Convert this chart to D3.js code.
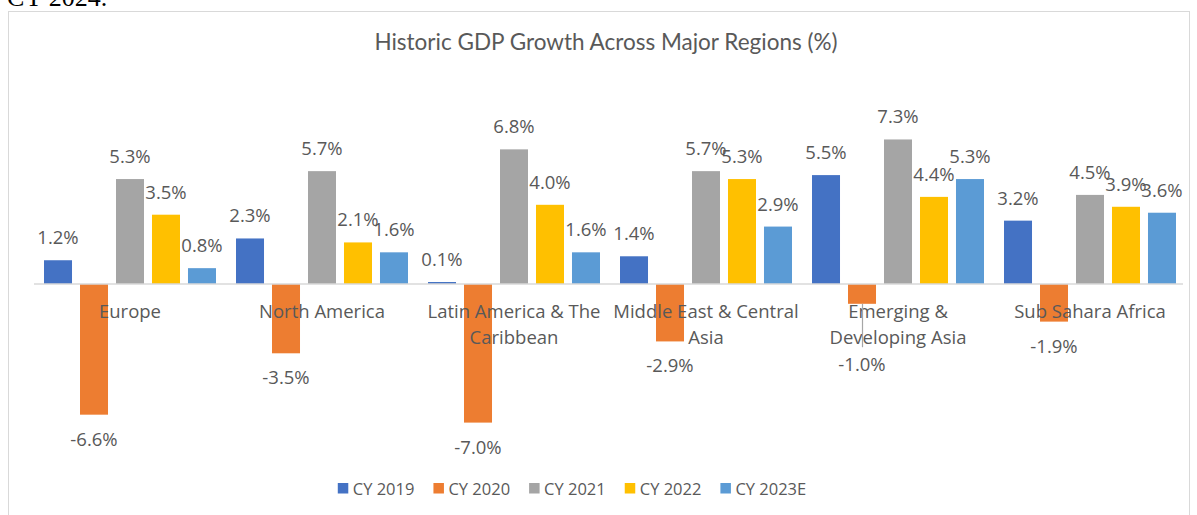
<!DOCTYPE html>
<html>
<head>
<meta charset="utf-8">
<script src="https://cdn.jsdelivr.net/npm/d3@7"></script>
<style>
  body { margin: 0; background: #fff; }
  text { font-family: "Open Sans", Lato, sans-serif; fill: #595959; }
</style>
</head>
<body>
<div class="chartArea"></div>
<script>
// chart data
const categories = ['Europe', 'North America', 'Latin America & The Caribbean',
  'Middle East & Central Asia', 'Emerging & Developing Asia', 'Sub Sahara Africa']
const tickLabels = [['Europe'], ['North America'], ['Latin America & The', 'Caribbean'],
  ['Middle East & Central', 'Asia'], ['Emerging &', 'Developing Asia'], ['Sub Sahara Africa']]
const seriesNames = ['CY 2019', 'CY 2020', 'CY 2021', 'CY 2022', 'CY 2023E']
const cy2019 = [1.2, 2.3, 0.1, 1.4, 5.5, 3.2]
const cy2020 = [-6.6, -3.5, -7.0, -2.9, -1.0, -1.9]
const cy2021 = [5.3, 5.7, 6.8, 5.7, 7.3, 4.5]
const cy2022 = [3.5, 2.1, 4.0, 5.3, 4.4, 3.9]
const cy2023 = [0.8, 1.6, 1.6, 2.9, 5.3, 3.6]
const seriesValues = [cy2019, cy2020, cy2021, cy2022, cy2023]
const colors = ['#4472C4', '#ED7D31', '#A5A5A5', '#FFC000', '#5B9BD5']

let width = 1197,
    height = 515

const svg = d3.select('.chartArea')
    .append('svg')
    .attr('width', width)
    .attr('height', height)

// text cut off above the chart (part of the page the chart came from)
svg.append('text')
    .attr('x', 7).attr('y', 6)
    .style('font-family', '"Liberation Serif", serif')
    .style('font-size', '26px')
    .style('fill', '#000')
    .text('CY 2024.')

// chart frame
svg.append('rect')
    .attr('x', 8.5).attr('y', 11.5)
    .attr('width', 1181).attr('height', 520)
    .attr('fill', 'none')
    .attr('stroke', '#d9d9d9')

svg.append('text')
    .attr('x', 606).attr('y', 50)
    .attr('text-anchor', 'middle')
    .style('font-family', 'Lato, sans-serif')
    .style('font-size', '22.5px')
    .text('Historic GDP Growth Across Major Regions (%)')

// scales
const x0 = d3.scaleBand()
    .domain(categories)
    .range([34, 1186])

const x1 = d3.scaleBand()
    .domain(seriesNames)
    .range([0, x0.bandwidth()])
    .paddingInner(0.222)
    .paddingOuter(0.278)

const yScale = d3.scaleLinear()
    .domain([-8, 8])
    .range([442.4, 125.6])

// bars
const rows = []
seriesNames.forEach((s, si) => {
  categories.forEach((c, ci) => {
    rows.push({ series: s, si: si, cat: c, ci: ci, value: seriesValues[si][ci] })
  })
})

const barX = d => x0(d.cat) + x1(d.series)

svg.append('g').selectAll('rect')
    .data(rows)
    .enter()
    .append('rect')
    .attr('x', barX)
    .attr('width', x1.bandwidth())
    .attr('y', d => yScale(Math.max(0, d.value)))
    .attr('height', d => Math.abs(yScale(d.value) - yScale(0)))
    .attr('fill', d => colors[d.si])

// zero line
svg.append('line')
    .attr('x1', 34).attr('x2', 1183)
    .attr('y1', yScale(0)).attr('y2', yScale(0))
    .attr('stroke', '#d9d9d9')
    .attr('stroke-width', 1.5)

// category labels
const catG = svg.append('g')
categories.forEach((c, ci) => {
  tickLabels[ci].forEach((line, li) => {
    catG.append('text')
        .attr('class', 'cat cat' + ci)
        .attr('x', x0(c) + x0.bandwidth() / 2)
        .attr('y', 318 + li * 25.5)
        .attr('text-anchor', 'middle')
        .style('font-size', '18.5px')
        .text(line)
  })
})

// value labels (leader lines go underneath them)
const leaderG = svg.append('g')
const labG = svg.append('g')
rows.forEach(d => {
  const cx = barX(d) + x1.bandwidth() / 2
  let yy = d.value >= 0 ? yScale(d.value) - 16 : yScale(d.value) + 31
  const t = labG.append('text')
      .attr('x', cx).attr('y', yy)
      .attr('text-anchor', 'middle')
      .style('font-size', '18.5px')
      .text(d.value.toFixed(1) + '%')
  if (d.value < 0) {
    // push the label below the category text if they collide
    const b = t.node().getBBox()
    let clash = false
    let lowest = 0
    catG.selectAll('.cat' + d.ci).each(function() {
      const cb = this.getBBox()
      lowest = Math.max(lowest, +d3.select(this).attr('y'))
      if (b.x < cb.x + cb.width && b.x + b.width > cb.x &&
          b.y < cb.y + cb.height && b.y + b.height > cb.y) clash = true
    })
    if (clash) {
      yy = lowest + 27.7
      t.attr('y', yy)
      leaderG.append('line')
          .attr('x1', Math.round(cx) + 0.5).attr('x2', Math.round(cx) + 0.5)
          .attr('y1', yScale(d.value)).attr('y2', yy - 24)
          .attr('stroke', '#a6a6a6')
          .attr('stroke-width', 1.2)
    }
  }
})

// legend
const legend = svg.append('g')
let lx = 0
seriesNames.forEach((s, i) => {
  const item = legend.append('g').attr('transform', `translate(${lx},0)`)
  item.append('rect')
      .attr('x', 0).attr('y', 483)
      .attr('width', 10.5).attr('height', 10.5)
      .attr('fill', colors[i])
  const t = item.append('text')
      .attr('x', 15).attr('y', 495)
      .style('font-size', '16.5px')
      .text(s)
  lx += 15 + t.node().getComputedTextLength() + 19
})
lx -= 19
legend.attr('transform', `translate(${572 - lx / 2},0)`)
</script>
</body>
</html>
